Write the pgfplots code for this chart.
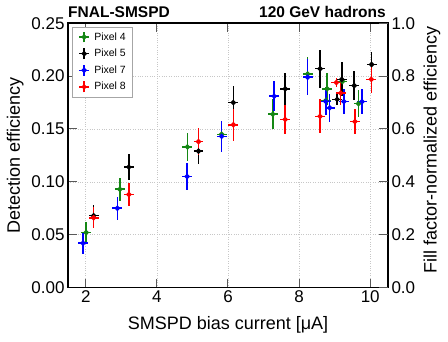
\documentclass[border=0pt]{standalone}
\usepackage{fontspec}
\setmainfont{Liberation Sans}
\usepackage{pgfplots}
\pgfplotsset{compat=1.18}

\definecolor{pgreen}{RGB}{20,135,20}

\pgfplotsset{
  meas/.style={
    only marks, mark=*, mark size=1.9pt, line width=1.5pt,
    error bars/x dir=both, error bars/x explicit,
    error bars/y dir=both, error bars/y explicit,
    error bars/error mark=none,
    error bars/error bar style={line width=1.5pt},
  },
  base/.style={
    scale only axis, width=320pt, height=264.2pt,
    xmin=1.5, xmax=10.5,
    tick align=inside, major tick length=9pt,
    tick style={black!65, line width=1pt},
    axis line style={line width=1.8pt},
    tick label style={font=\fontsize{17}{17}\selectfont},
    label style={font=\fontsize{18}{18}\selectfont},
    /pgf/number format/assume math mode=true,
  },
}

\begin{document}
\begin{tikzpicture}
  \begin{axis}[base,
      clip=false,
      ymin=0, ymax=0.25,
      xtick={2,4,6,8,10}, ytick={0,0.05,0.10,0.15,0.20,0.25},
      yticklabel style={/pgf/number format/.cd, fixed, fixed zerofill, precision=2},
      grid=major, grid style={dotted, black!22, line width=0.6pt},
      xlabel={SMSPD bias current [μA]},
      xlabel style={at={(axis description cs:0.5,-0.142)}, anchor=center},
      ylabel={Detection efficiency},
      ylabel style={at={(axis description cs:-0.165,0.5)}, anchor=center},
      legend cell align=left,
      legend style={at={(axis description cs:0.0135,0.987)}, anchor=north west,
        draw=black!35, line width=0.5pt, font=\fontsize{10.5}{12}\selectfont,
        row sep=3.5pt, inner xsep=3pt, inner ysep=3.5pt,
        nodes={inner xsep=3pt}},
      legend image code/.code={
        \path (0,0) (0.5cm,0);
        \draw[line width=1.5pt] (0.1cm,0) -- (0.45cm,0);
        \draw[line width=1.5pt] (0.275cm,-0.19cm) -- (0.275cm,0.19cm);
        \fill (0.275cm,0) circle (1.9pt);
      },
    ]
    % Pixel 4
    \addplot[color=pgreen, meas, mark options={fill=pgreen}] coordinates {
      (2.01,0.052) +- (0.14,0.010)
      (2.96,0.093) +- (0.14,0.011)
      (4.86,0.133) +- (0.14,0.0135)
      (5.82,0.145) +- (0.14,0.013)
      (7.26,0.164) +- (0.14,0.014)
      (8.24,0.202) +- (0.14,0.016)
      (8.75,0.177) +- (0.14,0.013)
      (8.79,0.188) +- (0.14,0.015)
      (9.22,0.195) +- (0.14,0.012)
      (9.67,0.174) +- (0.14,0.013)
    };
    \addlegendentry{Pixel 4}
    % Pixel 5
    \addplot[color=black, meas, mark options={fill=black}] coordinates {
      (2.22,0.068) +- (0.14,0.010)
      (3.21,0.114) +- (0.14,0.0125)
      (5.17,0.129) +- (0.14,0.012)
      (6.15,0.175) +- (0.14,0.016)
      (7.61,0.188) +- (0.14,0.015)
      (8.59,0.207) +- (0.14,0.018)
      (9.07,0.178) +- (0.14,0.005)
      (9.20,0.197) +- (0.14,0.016)
      (9.55,0.191) +- (0.14,0.014)
      (10.04,0.211) +- (0.14,0.012)
    };
    \addlegendentry{Pixel 5}
    % Pixel 7
    \addplot[color=blue, meas, mark options={fill=blue}] coordinates {
      (1.92,0.042) +- (0.14,0.010)
      (2.89,0.075) +- (0.14,0.011)
      (4.85,0.105) +- (0.14,0.013)
      (5.82,0.143) +- (0.14,0.015)
      (7.30,0.181) +- (0.14,0.014)
      (8.24,0.199) +- (0.14,0.017)
      (8.75,0.176) +- (0.14,0.013)
      (8.86,0.170) +- (0.14,0.013)
      (9.26,0.176) +- (0.14,0.012)
      (9.77,0.176) +- (0.14,0.012)
    };
    \addlegendentry{Pixel 7}
    % Pixel 8
    \addplot[color=red, meas, mark options={fill=red}] coordinates {
      (2.22,0.066) +- (0.14,0.010)
      (3.21,0.088) +- (0.14,0.011)
      (5.17,0.138) +- (0.14,0.0125)
      (6.15,0.154) +- (0.14,0.015)
      (7.61,0.159) +- (0.14,0.014)
      (8.59,0.162) +- (0.14,0.016)
      (9.05,0.194) +- (0.14,0.004)
      (9.17,0.184) +- (0.14,0.011)
      (9.57,0.157) +- (0.14,0.012)
      (10.03,0.197) +- (0.14,0.013)
    };
    \addlegendentry{Pixel 8}
    \node[anchor=base west, font=\bfseries\fontsize{15.5}{15.5}\selectfont, inner sep=0pt]
      at (rel axis cs:0,1) [yshift=6pt] {FNAL-SMSPD};
    \node[anchor=base east, font=\bfseries\fontsize{15.5}{15.5}\selectfont, inner sep=0pt]
      at (rel axis cs:1,1) [xshift=-2pt, yshift=6pt] {120 GeV hadrons};
  \end{axis}
  \begin{axis}[base,
      ymin=0, ymax=1,
      ytick={0,0.2,0.4,0.6,0.8,1.0},
      yticklabel style={/pgf/number format/.cd, fixed, fixed zerofill, precision=1},
      hide x axis, axis line style={draw=none},
      ytick pos=right, yticklabel pos=right,
      ylabel={Fill factor-normalized efficiency},
      ylabel style={at={(axis description cs:1.1375,0.52)}, anchor=center},
    ]
  \end{axis}
  \pgfresetboundingbox
  \path (-68pt,-53.5pt) rectangle (380pt,287.5pt);
\end{tikzpicture}
\end{document}
